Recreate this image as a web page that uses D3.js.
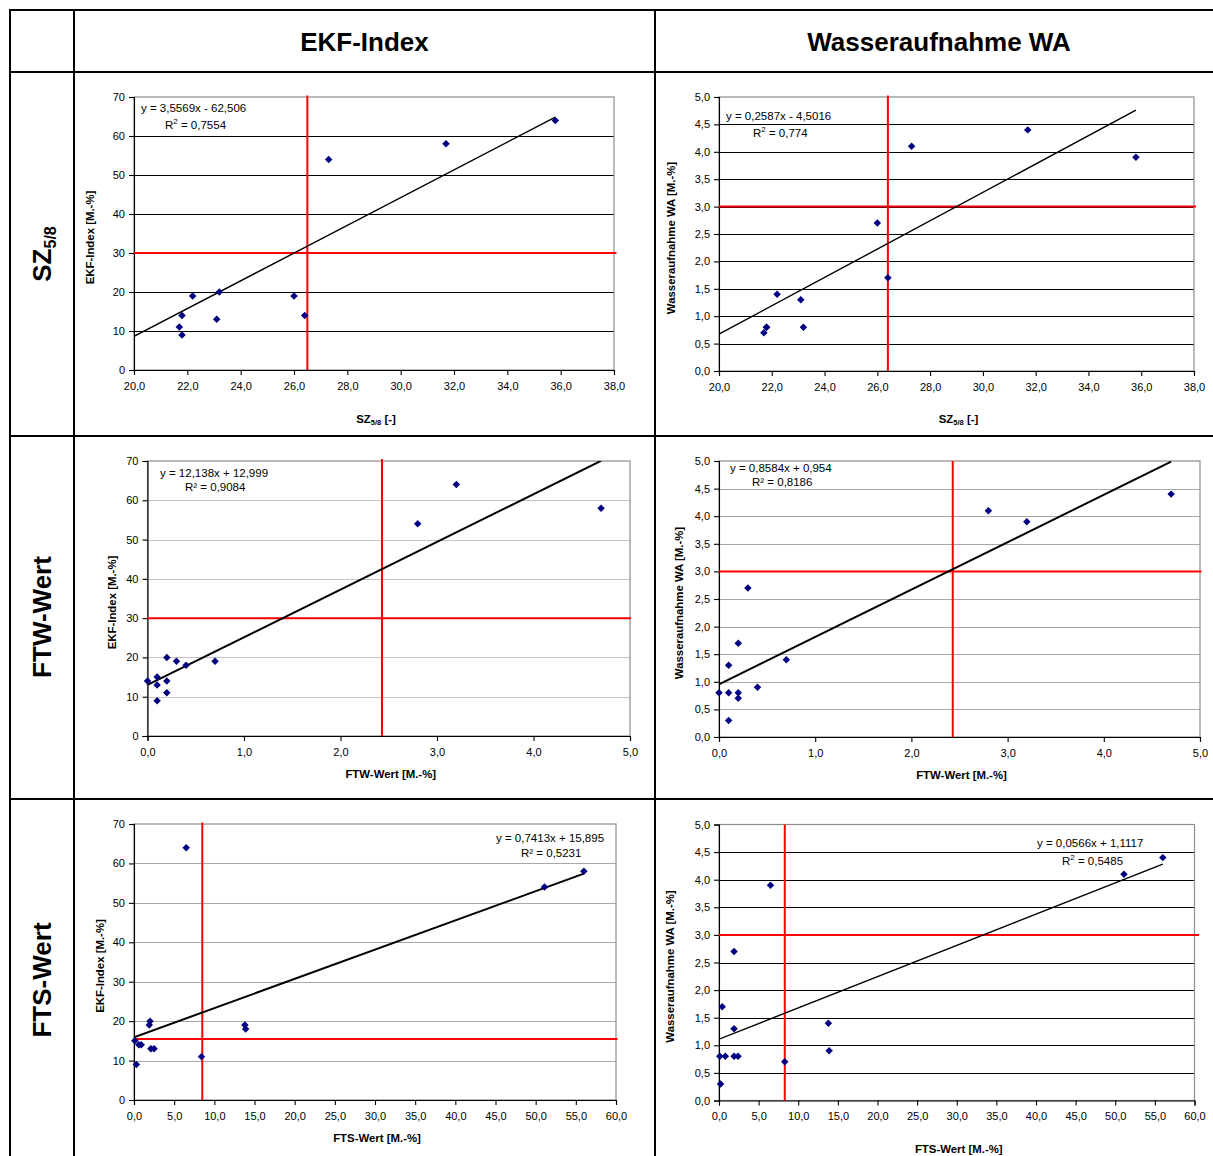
<!DOCTYPE html>
<html><head><meta charset="utf-8">
<script src="https://cdn.jsdelivr.net/npm/d3@7"></script>
<style>
body{margin:0;background:#fff}
svg{display:block}
text{font-family:"Liberation Sans",Arial,Helvetica,sans-serif;fill:#000}
</style>
</head><body>
<svg id="c" width="1213" height="1156"></svg>
<script>
// ---------------- DATA ----------------
const columnHeaders = ["EKF-Index", "Wasseraufnahme WA"];
const rowLabels = [["SZ", "5/8"], ["FTW-Wert", ""], ["FTS-Wert", ""]];

const szTicks  = [20, 22, 24, 26, 28, 30, 32, 34, 36, 38];
const ftwTicks = [0, 1, 2, 3, 4, 5];
const ftsTicks = [0, 5, 10, 15, 20, 25, 30, 35, 40, 45, 50, 55, 60];
const ekfTicks = [0, 10, 20, 30, 40, 50, 60, 70];
const waTicks  = [0, 0.5, 1, 1.5, 2, 2.5, 3, 3.5, 4, 4.5, 5];

// SZ5/8 vs EKF-Index
const szX_ekf = [21.7, 21.8, 21.8, 22.2, 23.1, 23.2, 26.0, 26.4, 27.3, 31.7, 35.8];
const ekf_sz  = [11, 9, 14, 19, 13, 20, 19, 14, 54, 58, 64];
// SZ5/8 vs WA
const szX_wa  = [21.7, 21.8, 21.8, 22.2, 23.1, 23.2, 26.0, 26.4, 27.3, 31.7, 35.8];
const wa_sz   = [0.7, 0.8, 0.8, 1.4, 1.3, 0.8, 2.7, 1.7, 4.1, 4.4, 3.9];
// FTW vs EKF-Index
const ftwX_ekf = [0.0, 0.1, 0.1, 0.1, 0.2, 0.2, 0.2, 0.3, 0.4, 0.7, 2.8, 3.2, 4.7];
const ekf_ftw  = [14, 15, 13, 9, 20, 14, 11, 19, 18, 19, 54, 64, 58];
// FTW vs WA
const ftwX_wa  = [0.0, 0.1, 0.1, 0.1, 0.2, 0.2, 0.2, 0.3, 0.4, 0.7, 2.8, 3.2, 4.7];
const wa_ftw   = [0.8, 1.3, 0.8, 0.3, 1.7, 0.8, 0.7, 2.7, 0.9, 1.4, 4.1, 3.9, 4.4];
// FTS vs EKF-Index
const ftsX_ekf = [0.1, 0.3, 0.6, 0.9, 1.9, 2.0, 2.1, 2.5, 6.5, 8.4, 13.8, 13.9, 51.1, 56.0];
const ekf_fts  = [15, 9, 14, 14, 19, 20, 13, 13, 64, 11, 19, 18, 54, 58];
// FTS vs WA
const ftsX_wa  = [0.1, 0.2, 0.4, 0.8, 1.9, 1.9, 1.9, 2.4, 6.5, 8.3, 13.8, 13.9, 51.1, 56.0];
const wa_fts   = [0.8, 0.3, 1.7, 0.8, 1.3, 0.8, 2.7, 0.8, 3.9, 0.7, 1.4, 0.9, 4.1, 4.4];

// trend lines (Excel linear fits)
const trendSlope     = [3.5569, 0.2587, 12.138, 0.8584, 0.7413, 0.0566];
const trendIntercept = [-62.506, -4.5016, 12.999, 0.954, 15.895, 1.1117];
const eqLabels = ["y = 3,5569x - 62,506", "y = 0,2587x - 4,5016", "y = 12,138x + 12,999",
                  "y = 0,8584x + 0,954", "y = 0,7413x + 15,895", "y = 0,0566x + 1,1117"];
const r2Values = ["0,7554", "0,774", "0,9084", "0,8186", "0,5231", "0,5485"];
// red limit lines
const limitX = [26.5, 26.4, 2.43, 2.43, 8.5, 8.3];
const limitY = [30, 3.0, 30, 3.0, 15.5, 3.0];

// ---------------- RENDER ----------------
const svg = d3.select("#c");
const loc = d3.formatLocale({decimal: ",", thousands: ".", grouping: [3], currency: ["", ""]});
const f1 = loc.format(".1f"), f0 = loc.format("d");
const FONT = '"Liberation Sans",Arial,Helvetica,sans-serif';

// panel layout (positions/styles only)
const panels = [
  {xs: szX_ekf, ys: ekf_sz, xT: szTicks, yT: ekfTicks, yF: f0, box: [134, 97, 614, 370],
   yLabX: 90, xLabY: 419, xTitle: ["SZ", "5/8", " [-]"], yTitle: "EKF-Index [M.-%]",
   grid: "#000", tw: 1.4, eq: [141, 112, 165, 129], supR: true, vTop: 95.5, hOver: 2.5, xStart: 20},
  {xs: szX_wa, ys: wa_sz, xT: szTicks, yT: waTicks, yF: f1, box: [719, 97, 1194, 371],
   yLabX: 671, xLabY: 419, xTitle: ["SZ", "5/8", " [-]"], yTitle: "Wasseraufnahme WA [M.-%]",
   grid: "#000", tw: 1.4, eq: [726, 120, 753, 137], supR: true, vTop: 95.5, hOver: 2, xStart: 20},
  {xs: ftwX_ekf, ys: ekf_ftw, xT: ftwTicks, yT: ekfTicks, yF: f0, box: [147.5, 461, 630, 736],
   yLabX: 112, xLabY: 774, xTitle: ["FTW-Wert [M.-%]"], yTitle: "EKF-Index [M.-%]",
   grid: "#c4c4c4", tw: 2, eq: [160, 477, 185, 491], supR: false, vTop: 459, hOver: 1, xStart: 0},
  {xs: ftwX_wa, ys: wa_ftw, xT: ftwTicks, yT: waTicks, yF: f1, box: [719, 461, 1200, 737],
   yLabX: 679, xLabY: 775, xTitle: ["FTW-Wert [M.-%]"], yTitle: "Wasseraufnahme WA [M.-%]",
   grid: "#a8a8a8", tw: 2, eq: [730, 472, 752, 486], supR: false, vTop: 461, hOver: 1.5, xStart: 0},
  {xs: ftsX_ekf, ys: ekf_fts, xT: ftsTicks, yT: ekfTicks, yF: f0, box: [134, 824, 616, 1100],
   yLabX: 100, xLabY: 1138, xTitle: ["FTS-Wert [M.-%]"], yTitle: "EKF-Index [M.-%]",
   grid: "#a8a8a8", tw: 2, eq: [496, 842, 521, 857], supR: false, vTop: 822.5, hOver: 1.5, xStart: 0},
  {xs: ftsX_wa, ys: wa_fts, xT: ftsTicks, yT: waTicks, yF: f1, box: [719, 824.5, 1194.5, 1100.5],
   yLabX: 670, xLabY: 1149, xTitle: ["FTS-Wert [M.-%]"], yTitle: "Wasseraufnahme WA [M.-%]",
   grid: "#000", tw: 1.4, eq: [1037, 847, 1062, 865], supR: true, vTop: 824.5, hOver: 4.5, xStart: 0}
];

const diamond = {draw(ctx, size) { const r = Math.sqrt(size / 2);
  ctx.moveTo(0, -r); ctx.lineTo(r, 0); ctx.lineTo(0, r); ctx.lineTo(-r, 0); ctx.closePath(); }};

panels.forEach((p, i) => {
  const [x0, y0, x1, y1] = p.box;
  const g = svg.append("g");
  const x = d3.scaleLinear().domain([p.xT[0], p.xT[p.xT.length - 1]]).range([x0, x1]);
  const y = d3.scaleLinear().domain([p.yT[0], p.yT[p.yT.length - 1]]).range([y1, y0]);

  // gridlines
  g.append("g").selectAll("line").data(p.yT.slice(1, -1)).join("line")
    .attr("x1", x0).attr("x2", x1).attr("y1", d => Math.round(y(d)) + 0.5).attr("y2", d => Math.round(y(d)) + 0.5)
    .attr("stroke", p.grid).attr("stroke-width", 1);
  // plot border
  g.append("rect").attr("x", x0).attr("y", y0).attr("width", x1 - x0).attr("height", y1 - y0)
    .attr("fill", "none").attr("stroke", "#8c8c8c").attr("stroke-width", 1.2);

  // axes
  const ya = g.append("g").attr("transform", `translate(${x0},0)`)
    .call(d3.axisLeft(y).tickValues(p.yT).tickFormat(p.yF).tickSize(5).tickPadding(4));
  const xa = g.append("g").attr("transform", `translate(0,${y1})`)
    .call(d3.axisBottom(x).tickValues(p.xT).tickFormat(f1).tickSize(5).tickPadding(7));
  [ya, xa].forEach(a => {
    a.selectAll("text").attr("font-size", 11).attr("font-family", FONT).attr("fill", "#000");
    a.selectAll("line,path").attr("stroke", "#000").attr("stroke-width", 1.1);
  });

  // clip
  const cid = "clip" + i;
  svg.append("clipPath").attr("id", cid).append("rect")
    .attr("x", x0).attr("y", y0).attr("width", x1 - x0).attr("height", y1 - y0);

  // red limit lines
  g.append("line").attr("x1", x(limitX[i])).attr("x2", x(limitX[i])).attr("y1", p.vTop).attr("y2", y1)
    .attr("stroke", "#ff0000").attr("stroke-width", 2);
  g.append("line").attr("x1", x0).attr("x2", x1 + p.hOver).attr("y1", y(limitY[i])).attr("y2", y(limitY[i]))
    .attr("stroke", "#ff0000").attr("stroke-width", 2);

  // trend line
  const xmax = d3.max(p.xs);
  const tl = [p.xStart, xmax].map(v => [v, trendSlope[i] * v + trendIntercept[i]]);
  g.append("path").attr("clip-path", `url(#${cid})`)
    .attr("d", d3.line().x(d => x(d[0])).y(d => y(d[1]))(tl))
    .attr("stroke", "#000").attr("stroke-width", p.tw).attr("fill", "none");

  // points
  const pts = p.xs.map((v, k) => [v, p.ys[k]]);
  g.append("g").selectAll("path").data(pts).join("path")
    .attr("transform", d => `translate(${x(d[0])},${y(d[1])})`)
    .attr("d", d3.symbol().type(diamond).size(28)())
    .attr("fill", "#000080");

  // equation
  g.append("text").attr("x", p.eq[0]).attr("y", p.eq[1]).attr("font-size", 11.5).text(eqLabels[i]);
  const r = g.append("text").attr("x", p.eq[2]).attr("y", p.eq[3]).attr("font-size", 11.5);
  if (p.supR) {
    r.append("tspan").text("R");
    r.append("tspan").attr("font-size", 8).attr("dy", -5).text("2");
    r.append("tspan").attr("dy", 5).text(" = " + r2Values[i]);
  } else {
    r.text("R² = " + r2Values[i]);
  }

  // y title
  g.append("text").attr("transform", `translate(${p.yLabX},${(y0 + y1) / 2 + 4}) rotate(-90)`)
    .attr("text-anchor", "middle").attr("dy", "0.35em").attr("font-size", 11.4).attr("font-weight", "bold")
    .text(p.yTitle);
  // x title
  const xt = g.append("text").attr("x", (x0 + x1) / 2 + 2).attr("y", p.xLabY).attr("dy", "0.35em")
    .attr("text-anchor", "middle").attr("font-size", 11.4).attr("font-weight", "bold");
  if (p.xTitle.length === 3) {
    xt.append("tspan").text(p.xTitle[0]);
    xt.append("tspan").attr("font-size", 7.5).attr("dy", 2.5).text(p.xTitle[1]);
    xt.append("tspan").attr("dy", -2.5).text(p.xTitle[2]);
  } else {
    xt.text(p.xTitle[0]);
  }
});

// ---------------- TABLE FRAME ----------------
const T = svg.append("g").attr("stroke", "#000").attr("stroke-width", 2);
[10, 72, 436, 799].forEach(yy => T.append("line").attr("x1", 9).attr("x2", 1213).attr("y1", yy).attr("y2", yy));
[10, 74, 655].forEach(xx => T.append("line").attr("x1", xx).attr("x2", xx).attr("y1", 9).attr("y2", 1156));

// headers
[364.5, 939].forEach((cx, k) => svg.append("text").attr("x", cx).attr("y", 42).attr("dy", "0.35em")
  .attr("text-anchor", "middle").attr("font-size", 26).attr("font-weight", "bold").text(columnHeaders[k]));

// row labels
[254, 617, 980].forEach((cy, k) => {
  const t = svg.append("text").attr("transform", `translate(42,${cy}) rotate(-90)`)
    .attr("text-anchor", "middle").attr("dy", "0.35em").attr("font-size", 26).attr("font-weight", "bold");
  t.append("tspan").text(rowLabels[k][0]);
  if (rowLabels[k][1]) t.append("tspan").attr("font-size", 16).attr("dy", 5).text(rowLabels[k][1]);
});
</script>
</body></html>
